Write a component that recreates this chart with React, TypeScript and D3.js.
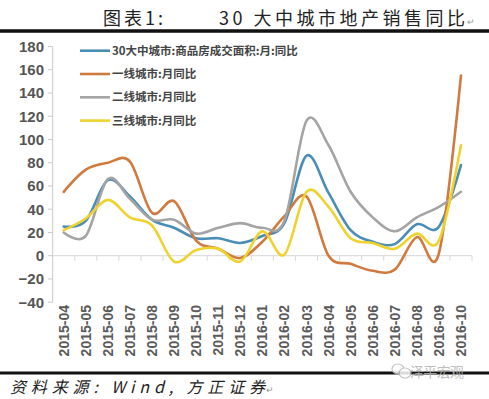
import * as d3 from 'd3'
import React from 'react'

// 2015-04 .. 2016-10, yoy %
const months = ['2015-04', '2015-05', '2015-06', '2015-07', '2015-08', '2015-09', '2015-10', '2015-11', '2015-12',
  '2016-01', '2016-02', '2016-03', '2016-04', '2016-05', '2016-06', '2016-07', '2016-08', '2016-09', '2016-10']
const city30 = [25, 30, 65, 51, 31, 24, 15, 15, 11, 17, 28, 86, 54, 22, 12, 10, 27, 25, 78]
const tier1 = [55, 74, 80, 81, 37, 47, 13, 6, -2, 12, 34, 51, 0, -7, -13, -12, 16, 2, 155]
const tier2 = [20, 17, 66, 49, 31, 31, 19, 24, 28, 24, 30, 116, 95, 55, 33, 21, 33, 42, 55]
const tier3 = [22, 32, 48, 33, 26, -5, 5, 6, -5, 21, 1, 55, 42, 15, 11, 6, 19, 13, 95]

const seriesNames = ['30大中城市:商品房成交面积:月:同比', '一线城市:月同比', '二线城市:月同比', '三线城市:月同比']
const seriesColors = ['#4a8db6', '#cf7a3e', '#a4a4a4', '#f0d22e']

const App = () => {
  const W = 489, H = 399
  const x = d3.scaleBand<string>().domain(months).range([52.7, 472])
  const y = d3.scaleLinear().domain([-40, 180]).range([302.2, 46.5])
  const cx = (m: string) => (x(m) as number) + x.bandwidth() / 2
  const line = d3.line<number>()
    .x((d, i) => cx(months[i]))
    .y(d => y(d))
    .curve(d3.curveCardinal.tension(0))

  const data = [city30, tier1, tier2, tier3]
  const yTicks = y.ticks(11)
  const cjk = '"Noto Sans CJK SC", sans-serif'

  return (
    <svg width={W} height={H} style={{ position: 'absolute', left: 0, top: 0, background: '#fff' }}>
      {/* title */}
      <text x={103} y={25} fontFamily={cjk} fontSize={18} fill="#222" textLength={60}>图表1:</text>
      <text x={219} y={25} fontFamily={cjk} fontSize={18} fill="#222" textLength={246}>30 大中城市地产销售同比</text>
      <text x={467} y={25} fontFamily={cjk} fontSize={9} fill="#999">↵</text>
      <line x1={0} x2={W} y1={31} y2={31} stroke="#111" strokeWidth={3.5} />

      {/* y axis */}
      <line x1={52.7} x2={52.7} y1={y(180)} y2={y(-40)} stroke="#c8c8c8" strokeWidth={1} />
      {yTicks.map(t => (
        <g key={t}>
          <line x1={48} x2={52.7} y1={y(t)} y2={y(t)} stroke="#c8c8c8" />
          <text x={44} y={y(t)} dy="0.36em" textAnchor="end" fontFamily="Liberation Sans, Arial" fontSize={15}
            fontWeight="bold" fill="#555">{t < 0 ? '−' + Math.abs(t) : t}</text>
        </g>
      ))}

      {/* x axis at zero */}
      <line x1={52.7} x2={472} y1={y(0)} y2={y(0)} stroke="#d6d6d6" />
      {months.map(m => (
        <line key={m} x1={(x(m) as number) + x.bandwidth()} x2={(x(m) as number) + x.bandwidth()}
          y1={y(0)} y2={y(0) + 5} stroke="#d6d6d6" />
      ))}
      {months.map(m => (
        <text key={m} transform={`translate(${cx(m)},305) rotate(-90)`} textAnchor="end" dy="0.36em"
          fontFamily="Liberation Sans, Arial" fontSize={14} fontWeight="bold" fill="#5a5a5a">{m}</text>
      ))}

      {/* lines */}
      {data.map((s, i) => (
        <path key={i} d={line(s) as string} fill="none" stroke={seriesColors[i]} strokeWidth={2.6}
          strokeLinejoin="round" strokeLinecap="round" />
      ))}

      {/* legend */}
      {seriesNames.map((n, i) => (
        <g key={n} transform={`translate(80,${50.7 + i * 23.3})`}>
          <line x1={0} x2={30} y1={0} y2={0} stroke={seriesColors[i]} strokeWidth={2.6} />
          <text x={32} y={0} dy="0.36em" fontFamily={cjk} fontSize={11.5} fontWeight="bold" fill="#444">{n}</text>
        </g>
      ))}

      {/* footer */}
      <line x1={0} x2={W} y1={373} y2={373} stroke="#111" strokeWidth={3} />
      <text x={10} y={393} fontFamily={cjk} fontSize={16} fontStyle="italic" fill="#222" textLength={255}>资料来源: Wind, 方正证券</text>
      <text x={266} y={393} fontFamily={cjk} fontSize={9} fill="#999">↵</text>
      <g opacity={0.85}>
        <ellipse cx={398} cy={369} rx={6} ry={5} fill="#fff" stroke="#bbb" strokeWidth={1.2} />
        <ellipse cx={405} cy={373} rx={6} ry={5} fill="#fff" stroke="#bbb" strokeWidth={1.2} />
        <text x={410} y={377} fontFamily={cjk} fontSize={14} fill="#b4b4b4" textLength={54}>泽平宏观</text>
      </g>
    </svg>
  )
}

export default App
